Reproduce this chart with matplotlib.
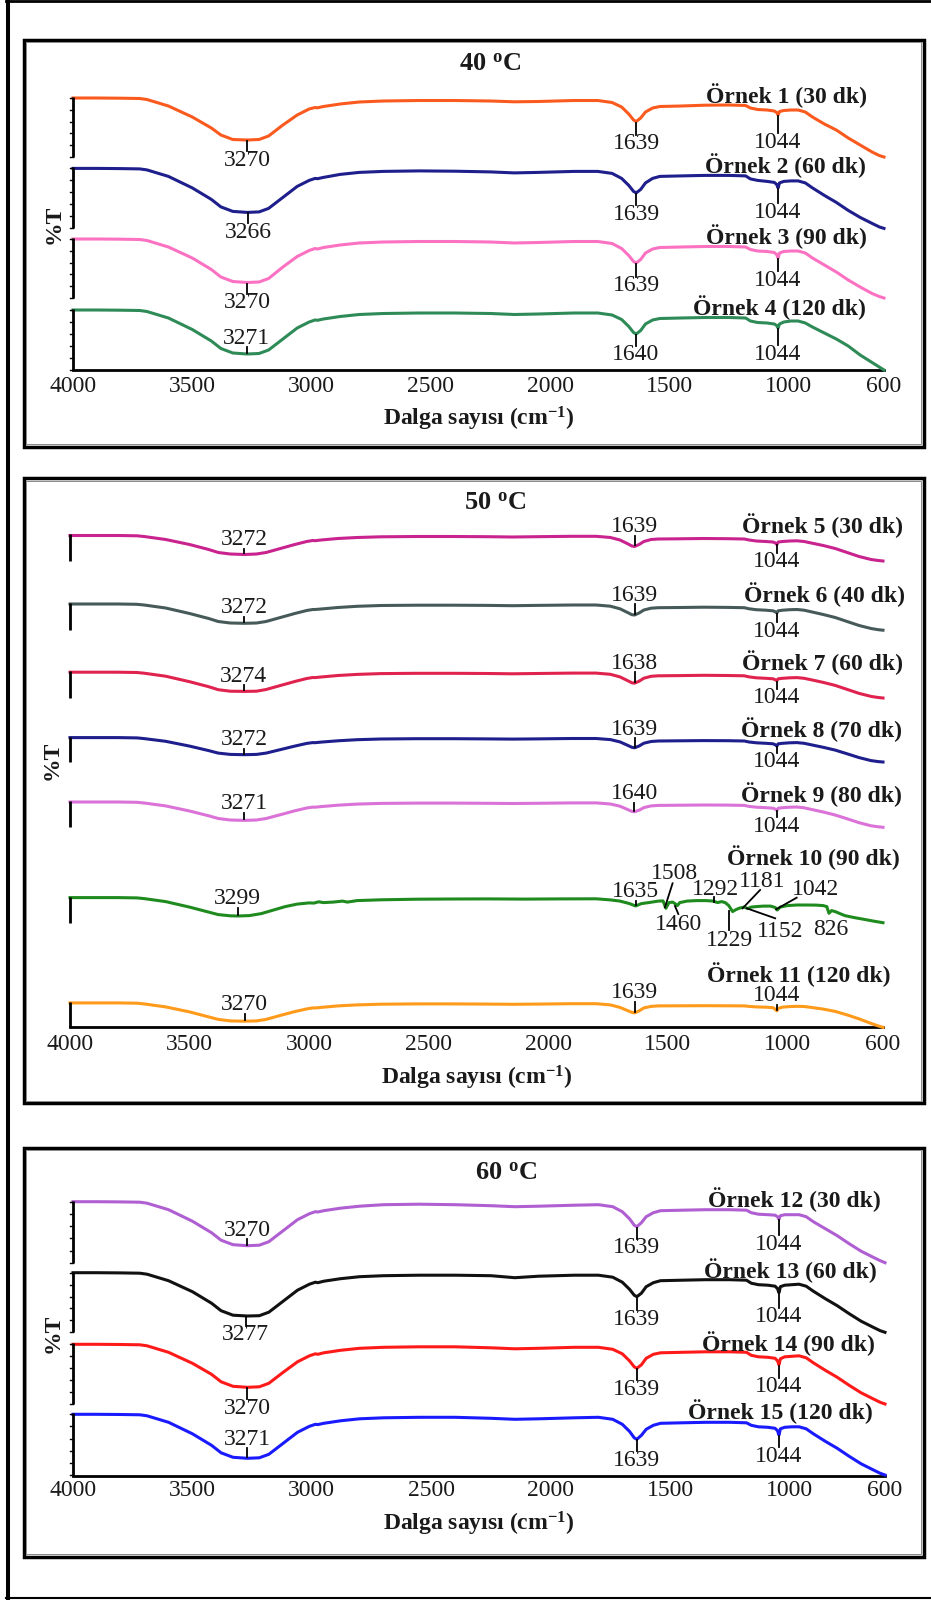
import numpy as np
import matplotlib.pyplot as plt
from matplotlib.patches import Rectangle
from matplotlib.lines import Line2D

plt.rcParams['font.family'] = ['Liberation Serif', 'DejaVu Serif']
plt.rcParams['mathtext.fontset'] = 'custom'
plt.rcParams['mathtext.rm'] = 'Liberation Serif'
plt.rcParams['mathtext.bf'] = 'Liberation Serif:bold'
plt.rcParams['mathtext.it'] = 'Liberation Serif:italic'

# ---- data: wavenumber grids (cm-1) and depth below each trace's start (%T, offset units)
wn_a = [4000, 3900, 3800, 3720, 3690, 3600, 3500, 3420, 3380, 3330, 3270, 3220, 3180, 3120, 3060,
        3010, 2985, 2975, 2950, 2880, 2800, 2700, 2550, 2400, 2250, 2150, 2050, 1900, 1800, 1740,
        1700, 1670, 1650, 1639, 1620, 1600, 1570, 1540, 1450, 1350, 1250, 1180, 1160, 1130, 1090,
        1060, 1050, 1044, 1038, 1020, 990, 960, 930, 900, 850, 800, 750, 700, 650, 620, 600]

wn_10 = [4000, 3900, 3800, 3720, 3690, 3600, 3500, 3420, 3380, 3330, 3299, 3250, 3200, 3150, 3100,
         3050, 3000, 2980, 2960, 2940, 2900, 2860, 2840, 2800, 2700, 2550, 2400, 2250, 2100, 1950,
         1800, 1740, 1700, 1660, 1635, 1610, 1580, 1540, 1520, 1508, 1495, 1480, 1470, 1460, 1450,
         1420, 1380, 1340, 1310, 1292, 1275, 1260, 1245, 1229, 1215, 1200, 1181, 1165, 1152, 1130,
         1100, 1070, 1050, 1042, 1030, 1000, 960, 920, 880, 850, 835, 826, 815, 800, 760,
         720, 680, 640, 600]

# 40 oC
ornek1 = [0, 0, 0.2, 0.5, 1.5, 8, 19, 30, 37, 41.5, 42, 41.5, 38, 27, 17, 11, 9.5, 9.8, 8.5, 6,
          4, 3, 2.5, 2.5, 3, 3.8, 3.5, 2.5, 2.5, 4.5, 9, 16, 22, 23.5, 20, 14, 10, 8.5, 8, 7.2,
          7, 7.5, 10, 11.5, 12, 13, 14.5, 17, 13.5, 12.5, 12, 12, 14, 19, 26, 32, 40, 47, 54, 57.5, 59]
ornek2 = [0, 0, 0.2, 0.5, 1.5, 8, 19.5, 31, 38.5, 43, 44, 43.5, 40, 29, 18, 12, 10, 10.3, 9, 6,
          4, 3, 2.5, 2.8, 3.5, 4.5, 4, 3, 3, 5, 10, 17, 23, 24.5, 21, 14.5, 10, 8, 7.5, 7,
          7, 7.5, 10.5, 12, 13, 14, 16, 19.5, 14.5, 13, 12.5, 12.5, 14.5, 19.5, 27, 34, 42, 49, 55, 58.5, 60]
ornek3 = [0, 0, 0.2, 0.5, 1.5, 8, 19, 30.5, 38, 42.5, 43.5, 43, 39.5, 28, 17.5, 11.5, 9.5, 10, 8.5, 6,
          4, 3, 2.5, 2.5, 3, 4, 3.5, 2.5, 2.5, 4.5, 9.5, 16.5, 22.5, 24, 20.5, 14, 10, 8.5, 8, 7.5,
          7.5, 8, 10.5, 12, 12.5, 13.5, 15.5, 19, 14, 12.5, 12, 12, 14, 19, 26, 33, 41, 48, 54.5, 57.5, 59]
ornek4 = [0, 0, 0.2, 0.5, 1.5, 8, 19.5, 31, 38.5, 43, 44, 43.5, 40, 29, 18, 12, 10, 10.3, 9, 6.5,
          4.5, 3.5, 3, 3, 3.5, 4.5, 4, 3, 3, 5, 9.5, 16.5, 22.5, 24, 20.5, 14, 10, 8.5, 8, 7.5,
          7.5, 8, 11, 12.5, 13, 14, 15.5, 18, 14, 12, 11, 11, 13, 17, 23, 29, 36, 45, 52.5, 57, 60]
# 50 oC
ornek5 = [0, 0, 0, 0.3, 1, 4, 9, 14, 17, 18.5, 19, 18.5, 17, 13, 9, 6, 5, 5.2, 4.5, 3,
          2, 1.3, 1, 1, 1.2, 1.5, 1.2, 0.8, 0.8, 2, 4.5, 8, 10.5, 11, 9, 6, 4, 3.5, 3.3, 3,
          3.2, 3.5, 4.5, 5.5, 6, 6.5, 7.5, 9, 6.5, 6, 5.5, 5.3, 6, 7.5, 10, 13, 17, 21, 24, 25, 25.5]
ornek6 = [0, 0, 0, 0.3, 1, 4, 9.5, 14.5, 17.5, 19, 19.3, 19, 17.5, 13.5, 9.5, 6.5, 5.5, 5.5, 5, 3.5,
          2.3, 1.5, 1.2, 1.2, 1.4, 1.7, 1.4, 1, 1, 2.2, 4.8, 8.3, 10.7, 11, 9, 6, 4.2, 3.7, 3.5, 3.2,
          3.4, 3.7, 4.8, 5.7, 6.2, 6.8, 7.8, 9, 6.8, 6.2, 5.7, 5.5, 6.2, 7.8, 10.5, 13.5, 17.5, 21.5, 24.5, 25.7, 26.2]
ornek7 = [0, 0, 0, 0.3, 1, 4, 9.5, 14.5, 17.5, 19, 19.2, 19, 17.3, 13.3, 9.3, 6.3, 5.3, 5.4, 4.8, 3.3,
          2.2, 1.4, 1.1, 1.1, 1.3, 1.6, 1.3, 0.9, 0.9, 2.1, 4.7, 8.2, 10.6, 11, 9, 6, 4.1, 3.6, 3.4, 3.1,
          3.3, 3.6, 4.7, 5.6, 6.1, 6.6, 7.6, 8.5, 6.6, 6.1, 5.6, 5.4, 6.1, 7.6, 10.2, 13.2, 17.2, 21.2, 24.2, 25.3, 25.8]
ornek8 = [0, 0, 0, 0.3, 1, 3.7, 8.5, 13, 15.5, 16.8, 17.1, 16.8, 15.5, 12, 8.5, 5.8, 5, 5.1, 4.5, 3.2,
          2.1, 1.4, 1.1, 1.1, 1.3, 1.5, 1.3, 0.9, 0.9, 2, 4.3, 7.5, 9.7, 10.2, 8.4, 5.6, 3.9, 3.4, 3.2, 3,
          3.1, 3.4, 4.4, 5.2, 5.7, 6.2, 7.2, 8.5, 6.2, 5.7, 5.2, 5, 5.7, 7.2, 9.7, 12.5, 16.2, 20, 23, 24, 24.4]
ornek9 = [0, 0, 0, 0.3, 1, 3.9, 9, 13.8, 16.5, 18, 18.4, 18, 16.5, 12.7, 8.8, 6, 5.1, 5.2, 4.6, 3.2,
          2.1, 1.4, 1.1, 1.1, 1.3, 1.5, 1.3, 0.9, 0.9, 2, 4.2, 7.3, 9.4, 9.8, 8.2, 5.6, 3.9, 3.4, 3.2, 3,
          3.1, 3.4, 4.4, 5.2, 5.7, 6.2, 7.2, 8.3, 6.2, 5.7, 5.2, 5, 5.8, 7.4, 10, 13, 16.8, 20.7, 23.8, 24.8, 25.3]
ornek10 = [0, 0, 0, 0.3, 1, 4, 9.5, 14.5, 17, 18.2, 18.4, 18, 16, 12.5, 9,
           6.5, 5.3, 5.5, 4.2, 5, 4.5, 3.5, 4.5, 3, 2.2, 1.6, 1.4, 1.3, 1.5, 1.3,
           1.2, 2.3, 3.5, 6, 8.4, 6, 5, 3.5, 3.3, 10.7, 5, 4.5, 6, 8, 5,
           3.5, 3, 3, 3.5, 5, 4, 5, 8, 14, 12, 10.5, 9.5, 11, 9.5, 9,
           8.5, 8.5, 10, 12.4, 9.5, 8, 7.4, 7.4, 7.5, 8, 9, 15.7, 13, 14, 18,
           20, 21.7, 23.5, 25.1]
ornek11 = [0, 0, 0, 0.3, 1, 4, 9, 14, 16.5, 18, 18.3, 18, 16.5, 12.5, 8.7, 6, 5, 5.1, 4.5, 3,
           2, 1.3, 1, 1, 1.2, 1.4, 1.2, 0.8, 0.8, 2, 4.5, 7.5, 9.5, 10, 8, 5, 3.5, 3, 2.9, 2.8,
           2.9, 3, 3.5, 4, 4.3, 4.8, 6.5, 8, 5.5, 4.2, 3.7, 3.4, 3.6, 4.5, 6.2, 8.5, 12, 16, 20.5, 23, 24.5]
# 60 oC
ornek12 = [0, 0, 0.2, 0.5, 1.5, 8, 19.5, 31, 38.5, 43, 44, 43.5, 40, 29, 18, 12, 10, 10.3, 9, 6.5,
           4.5, 3, 2.5, 3, 4, 5, 4.5, 3.5, 3, 5, 10, 17, 23.5, 25, 21, 15, 11, 9, 8.5, 8,
           8, 8.5, 11, 12.5, 13, 13.5, 15, 17.5, 14, 13, 13, 13, 15, 20, 27, 34, 42, 49.5, 55.5, 59, 61]
ornek13 = [0, 0, 0.2, 0.5, 1.5, 8, 19, 30.5, 38, 42.5, 43.3, 43, 39.5, 28.5, 17.5, 11.5, 9.5, 10, 8.5, 6,
           4, 3, 2.5, 2.5, 3, 5, 3.5, 2.5, 2.5, 4.5, 9.5, 16.5, 22.5, 24, 20.5, 14, 10, 8, 7.5, 7,
           7, 7.5, 10.5, 12, 12.5, 13.5, 16, 20, 14, 12.5, 12, 11.5, 13.5, 18.5, 26, 33, 41, 48.5, 54.5, 58, 59.6]
ornek14 = [0, 0, 0.2, 0.5, 1.5, 8, 19, 30, 37.5, 42, 43, 42.5, 39, 28, 17.5, 11.5, 9.5, 10, 8.5, 6,
           4, 3, 2.5, 2.5, 3.5, 4.5, 4, 3, 3, 5, 9.5, 16.5, 22.5, 24, 20.5, 14, 10, 8.5, 8, 7.5,
           7.5, 8, 11, 12.5, 13, 14, 16.5, 20.5, 14.5, 12.5, 12, 11.5, 13.5, 18.5, 26, 33, 41, 48.5, 54.5, 58, 59.7]
ornek15 = [0, 0, 0.2, 0.5, 1.5, 8, 19.5, 31, 38.5, 43, 44, 43.5, 40, 29, 18, 12, 10, 10.3, 9, 6.5,
           4.5, 3.5, 3, 3, 4, 5, 4.5, 3.5, 3, 5, 10, 17, 23.5, 25, 21, 15, 11, 9, 8.5, 8,
           8, 8.5, 11, 12.5, 13, 14, 16.5, 20.7, 14.5, 13, 12.5, 12.5, 14.5, 19.5, 27, 34, 42, 49.5, 55.5, 59, 60.7]

names = ['Örnek 1 (30 dk)', 'Örnek 2 (60 dk)', 'Örnek 3 (90 dk)', 'Örnek 4 (120 dk)',
         'Örnek 5 (30 dk)', 'Örnek 6 (40 dk)', 'Örnek 7 (60 dk)', 'Örnek 8 (70 dk)',
         'Örnek 9 (80 dk)', 'Örnek 10 (90 dk)', 'Örnek 11 (120 dk)',
         'Örnek 12 (30 dk)', 'Örnek 13 (60 dk)', 'Örnek 14 (90 dk)', 'Örnek 15 (120 dk)']
colors = ['#fb5a1e', '#1e1e8c', '#fb72c2', '#2e8b57',
          '#c8238e', '#475a5a', '#e0234e', '#1e1e8c', '#da72d8', '#1f8b1f', '#ff9a1a',
          '#b05fd2', '#111111', '#ff1a1a', '#1a1aff']
spectra = [ornek1, ornek2, ornek3, ornek4, ornek5, ornek6, ornek7, ornek8, ornek9,
           ornek10, ornek11, ornek12, ornek13, ornek14, ornek15]
grids = [wn_a] * 9 + [wn_10] + [wn_a] * 5

# peak labels: (wavenumber, text, label offset from trace start)
peaks = [
    [(3270, '3270', 62), (1639, '1639', 45.5), (1044, '1044', 44)],
    [(3266, '3266', 63.6), (1639, '1639', 45.6), (1044, '1044', 43.6)],
    [(3270, '3270', 64), (1639, '1639', 46.7), (1044, '1044', 41)],
    [(3271, '3271', 28), (1640, '1640', 44.5), (1044, '1044', 44)],
    [(3272, '3272', 4.1), (1639, '1639', -8.5), (1044, '1044', 26.5)],
    [(3272, '3272', 3.8), (1639, '1639', -8.5), (1044, '1044', 27.4)],
    [(3274, '3274', 4.1), (1638, '1638', -8.9), (1044, '1044', 25.4)],
    [(3272, '3272', 2), (1639, '1639', -8.2), (1044, '1044', 24.4)],
    [(3271, '3271', 2), (1640, '1640', -8.1), (1044, '1044', 24.5)],
    [(3299, '3299', 1.2), (1635, '1635', -6)],
    [(3270, '3270', 2), (1639, '1639', -10.2), (1044, '1044', -7)],
    [(3270, '3270', 28.3), (1639, '1639', 46), (1044, '1044', 42.3)],
    [(3277, '3277', 62.3), (1639, '1639', 46.6), (1044, '1044', 44)],
    [(3270, '3270', 64), (1639, '1639', 45), (1044, '1044', 42.4)],
    [(3271, '3271', 25), (1639, '1639', 45.7), (1044, '1044', 41.7)],
]
# Örnek 10 fingerprint labels with leader lines: text (wn, off), line (wn, off) -> (wn, off)
extra10 = [
    ('1508', (1470, -24.3), (1480, -14.3), (1512, 9.7)),
    ('1460', (1456, 27.4), (1470, 8.4), (1456, 16.4)),
    ('1292', (1302, -7.6), (1306, -0.9), (1306, 4.1)),
    ('1229', (1240, 42.4), (1244, 13.1), (1244, 32.4)),
    ('1181', (1107, -15.9), (1114, -7.6), (1187, 10.7)),
    ('1152', (1030, 34.1), (1170, 10.7), (1051, 20.7)),
    ('1042', (884, -8.3), (961, 0.1), (1047, 11.7)),
    ('826', (819, 31.7), None, None),
]

xticks = [4000, 3500, 3000, 2500, 2000, 1500, 1000, 600]

W, H = 931, 1600
FS = 17
TXT = '#1a1a1a'

fig = plt.figure(figsize=(W / 100, H / 100), dpi=100)


def fx(x):
    return x / W


def fy(y):
    return 1 - y / H


# outer frame (right side cut off in the original)
fig.add_artist(Line2D([fx(8), fx(8)], [fy(0), fy(1599)], color='black', lw=2.9))
fig.add_artist(Line2D([fx(6), fx(931)], [fy(1.2), fy(1.2)], color='black', lw=2))
fig.add_artist(Line2D([fx(6), fx(931)], [fy(1598.3), fy(1598.3)], color='black', lw=1.5))

for top, bot in [(39.7, 446.7), (478.3, 1103.3), (1147.7, 1557)]:
    fig.add_artist(Rectangle((fx(23.7), fy(bot)), (923.5 - 23.7) / W, (bot - top) / H,
                             transform=fig.transFigure, fill=False, ec='black', lw=2.5))
    fig.add_artist(Rectangle((fx(26.4), fy(bot - 2.7)), (920.8 - 26.4) / W, (bot - top - 5.4) / H,
                             transform=fig.transFigure, fill=False, ec='#8a8a8a', lw=0.7))


def draw_panel(idx, tops, x0, x1, base, ymin, title, title_xy, ylab_xy,
               right_px, name_off, tick_off, xlab_off, nticks):
    ax = fig.add_axes([fx(x0), fy(base), (x1 - x0) / W, (base - ymin) / H])
    ax.set_xlim(4000, 600)
    ax.set_ylim(base, ymin)
    ax.patch.set_alpha(0)
    for s in ['top', 'right', 'left']:
        ax.spines[s].set_visible(False)
    ax.spines['bottom'].set_linewidth(2)
    ax.set_xticks([])
    ax.set_yticks([])
    k = 3400.0 / (x1 - x0)

    def px2wn(px):
        return 4000 - (px - x0) * k

    for xt in xticks:
        ax.text(xt, base + tick_off, str(xt), ha='center', va='center', fontsize=FS,
                color=TXT, clip_on=False)
    fig.text(fx((x0 + x1) / 2), fy(base + xlab_off), 'Dalga sayısı (cm$^{\\mathbf{-1}}$)',
             ha='center', va='center', fontsize=FS, fontweight='bold', color=TXT)
    fig.text(fx(title_xy[0]), fy(title_xy[1]), title + ' $^{\\mathbf{o}}$C', ha='center',
             va='center', fontsize=FS + 2, fontweight='bold', color=TXT)
    fig.text(fx(ylab_xy[0]), fy(ylab_xy[1]), '%T', rotation=90, ha='center', va='center',
             fontsize=FS, fontweight='bold', color=TXT)

    for j, i in enumerate(idx):
        wn = np.array(grids[i], dtype=float)
        d = np.array(spectra[i], dtype=float)
        top = tops[j]
        ax.plot(wn, top + d, color=colors[i], lw=2.2, solid_joinstyle='round', clip_on=False, zorder=3)
        # y-axis segment of this trace
        bot = top + d.max()
        ax.plot([4000, 4000], [top - 1, bot], color='black', lw=2, solid_capstyle='butt',
                clip_on=False, zorder=4)
        if nticks:
            for yy in np.linspace(top, bot, nticks):
                ax.plot([4000, 4000 + 3 * k], [yy, yy], color='black', lw=1, clip_on=False, zorder=4)
        ax.text(px2wn(right_px[j]), top + name_off[j], names[i], ha='right', va='center',
                fontsize=FS, fontweight='bold', color=TXT, clip_on=False)
        for w, lab, off in peaks[i]:
            yc = top + np.interp(w, wn[::-1], d[::-1])
            yt = top + off
            if yt > yc:
                ax.plot([w, w], [yc + 1, yt - 9], color='black', lw=1.3, clip_on=False, zorder=4)
            else:
                ax.plot([w, w], [yc - 1, yt + 9], color='black', lw=1.3, clip_on=False, zorder=4)
            ax.text(w, yt, lab, ha='center', va='center', fontsize=FS, color=TXT, clip_on=False)
        if i == 9:
            for lab, tp, p1, p2 in extra10:
                ax.text(tp[0], top + tp[1], lab, ha='center', va='center', fontsize=FS,
                        color=TXT, clip_on=False)
                if p1 is not None:
                    ax.plot([p1[0], p2[0]], [top + p1[1], top + p2[1]], color='black', lw=1.3,
                            clip_on=False, zorder=4)
    return ax


draw_panel([0, 1, 2, 3], [98, 168.4, 239, 310], 73, 884, 370, 80, '40', (490, 64), (54, 224),
           [867, 866, 867, 866], [-2.7, -2.4, -2.5, -2], 16, 49, 6)
draw_panel([4, 5, 6, 7, 8, 9, 10], [535.5, 604, 672.2, 737.6, 802, 897.6, 1002.9],
           70, 883, 1027, 515, '50', (495, 503), (52.5, 760),
           [903.5, 905, 903, 902, 902, 899.4, 890.5], [-10.2, -9.3, -9.3, -8.2, -7.3, -39.6, -28],
           17.5, 51, 0)
draw_panel([11, 12, 13, 14], [1201.7, 1272.7, 1344.3, 1414.3], 73, 885, 1476, 1185, '60',
           (506, 1173), (53, 1333), [881, 877, 875, 873], [-1.7, -2, -1, -2.6], 14.7, 48, 6)

fig.savefig('out.png', dpi=100)
